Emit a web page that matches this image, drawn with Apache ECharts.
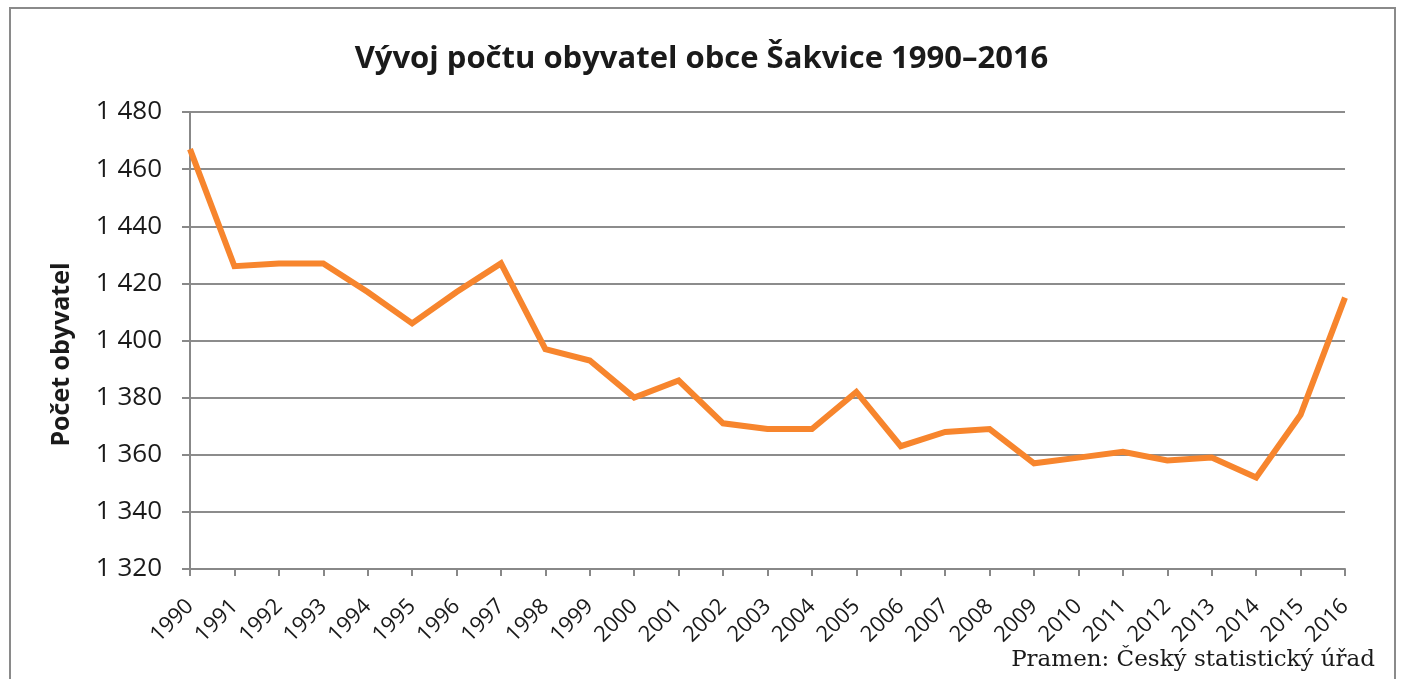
<!DOCTYPE html>
<html>
<head>
<meta charset="utf-8">
<script src="https://cdn.jsdelivr.net/npm/echarts@6/dist/echarts.min.js"></script>
<style>
html,body{margin:0;padding:0;background:#fff;}
#c{width:1403px;height:679px;}
</style>
</head>
<body>
<div id="c"></div>
<script>
const years = ['1990','1991','1992','1993','1994','1995','1996','1997','1998','1999','2000','2001','2002','2003','2004','2005','2006','2007','2008','2009','2010','2011','2012','2013','2014','2015','2016'];
const population = [1467,1426,1427,1427,1417,1406,1417,1427,1397,1393,1380,1386,1371,1369,1369,1382,1363,1368,1369,1357,1359,1361,1358,1359,1352,1374,1415];
const yMin = 1320, yMax = 1480, yStep = 20;
const titleText = 'Vývoj počtu obyvatel obce Šakvice 1990–2016';
const yAxisName = 'Počet obyvatel';
const sourceText = 'Pramen: Český statistický úřad';

const chart = echarts.init(document.getElementById('c'));
chart.setOption({
  animation: false,
  backgroundColor: '#fff',
  title: {
    text: titleText,
    left: 'center',
    top: 39,
    textStyle: {fontFamily: 'Open Sans', fontWeight: 'bold', fontSize: 31, color: '#1a1a1a'}
  },
  graphic: [
    {type: 'rect', shape: {x: 10, y: 8, width: 1385, height: 720}, style: {fill: 'none', stroke: '#8a8a8a', lineWidth: 2}, silent: true},
    {type: 'text', right: 28, top: 649, style: {text: sourceText, fontFamily: 'DejaVu Serif', fontSize: 23, fill: '#1a1a1a'}}
  ],
  grid: {left: 190, right: 58, top: 112, bottom: 110},
  xAxis: {
    type: 'category',
    data: years,
    boundaryGap: false,
    axisLine: {lineStyle: {color: '#888', width: 2}},
    axisTick: {show: true, length: 7, lineStyle: {color: '#888', width: 2}},
    axisLabel: {rotate: 45, fontFamily: 'Open Sans', fontSize: 22, color: '#1a1a1a', margin: 34, interval: 0}
  },
  yAxis: {
    type: 'value',
    min: yMin, max: yMax, interval: yStep,
    name: yAxisName,
    nameLocation: 'middle',
    nameGap: 116,
    nameTextStyle: {fontFamily: 'Open Sans', fontWeight: 'bold', fontSize: 25, color: '#1a1a1a', padding: [0, 28, 0, 0]},
    axisLine: {show: true, lineStyle: {color: '#888', width: 2}},
    axisTick: {show: true, length: 8, lineStyle: {color: '#888', width: 2}},
    splitLine: {lineStyle: {color: '#8c8c8c', width: 2}},
    axisLabel: {
      fontFamily: 'Open Sans', fontSize: 26, color: '#1a1a1a', margin: 28,
      formatter: v => String(v).replace(/\B(?=(\d{3})+(?!\d))/g, ' ')
    }
  },
  series: [{
    type: 'line',
    data: population,
    symbol: 'none',
    lineStyle: {color: '#F7852D', width: 6, join: 'miter'},
    itemStyle: {color: '#F7852D'}
  }]
});
</script>
</body>
</html>
